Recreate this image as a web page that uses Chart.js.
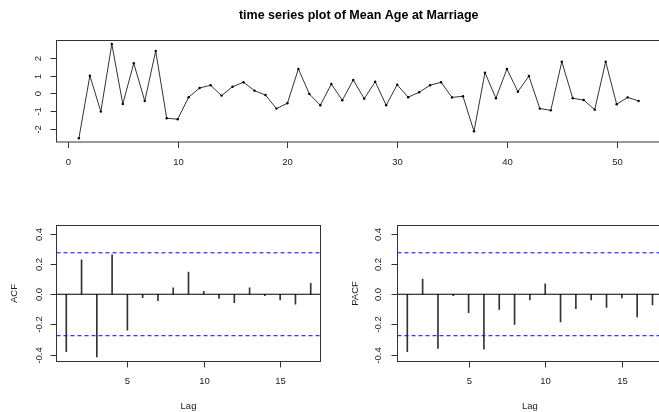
<!DOCTYPE html>
<html>
<head>
<meta charset="utf-8">
<script src="https://cdn.jsdelivr.net/npm/chart.js@4.4.1/dist/chart.umd.min.js"></script>
<style>
  html, body { margin: 0; padding: 0; background: #ffffff; overflow: hidden; width: 659px; height: 412px; }
  #frame { position: relative; left: 0; top: 0; width: 659px; height: 412px; overflow: hidden; }
  canvas { position: absolute; }
  #ts { left: 0; top: 0; width: 665px; height: 190px; }
  #acf { left: 0; top: 200px; width: 330px; height: 212px; }
  #pacf { left: 330px; top: 200px; width: 335px; height: 212px; }
</style>
</head>
<body>
<div id="frame">
<canvas id="ts" width="665" height="190"></canvas>
<canvas id="acf" width="330" height="212"></canvas>
<canvas id="pacf" width="335" height="212"></canvas>
</div>
<script>
// ---------------- data ----------------
const timeIndex = [1,2,3,4,5,6,7,8,9,10,11,12,13,14,15,16,17,18,19,20,21,22,23,24,25,26,
                   27,28,29,30,31,32,33,34,35,36,37,38,39,40,41,42,43,44,45,46,47,48,49,50,51,52];
const ageSeries = [-2.53, 0.99, -1.03, 2.77, -0.60, 1.69, -0.43, 2.38, -1.40, -1.46,
                   -0.22, 0.30, 0.45, -0.13, 0.37, 0.62, 0.15, -0.10, -0.86, -0.56,
                   1.37, -0.04, -0.67, 0.52, -0.39, 0.75, -0.30, 0.65, -0.67, 0.48,
                   -0.22, 0.06, 0.45, 0.62, -0.23, -0.17, -2.14, 1.16, -0.28, 1.37,
                   0.09, 0.97, -0.86, -0.96, 1.78, -0.28, -0.38, -0.92, 1.78, -0.62,
                   -0.23, -0.43];
const lags = [1,2,3,4,5,6,7,8,9,10,11,12,13,14,15,16,17];
const acfValues = [-0.380, 0.229, -0.416, 0.262, -0.238, -0.022, -0.043, 0.042, 0.147,
                   0.020, -0.027, -0.056, 0.042, -0.009, -0.038, -0.065, 0.073];
const pacfValues = [-0.380, 0.100, -0.360, -0.009, -0.122, -0.365, -0.100, -0.200, -0.038,
                    0.069, -0.183, -0.096, -0.038, -0.087, -0.025, -0.150, -0.071];
const confBound = 0.275;
const tsXTicks = [0, 10, 20, 30, 40, 50];
const tsYTicks = [-2, -1, 0, 1, 2];
const tsYTickLabels = ['-2', '-1', '0', '1', '2'];
const lagTicks = [5, 10, 15];
const corrTicks = [-0.4, -0.2, 0.0, 0.2, 0.4];
const corrTickLabels = ['-0.4', '-0.2', '0.0', '0.2', '0.4'];
const chartTitle = 'time series plot of Mean Age at Marriage';

// ---------------- R-style axes plugin ----------------
const FONT = '"Liberation Sans", Arial, Helvetica, sans-serif';
const rAxes = {
  id: 'rAxes',
  afterDraw(chart, args, o) {
    const ctx = chart.ctx, a = chart.chartArea;
    const xs = chart.scales.x, ys = chart.scales.y;
    ctx.save();
    ctx.setLineDash([]);
    ctx.strokeStyle = '#333333';
    ctx.lineWidth = 1;
    ctx.strokeRect(a.left, a.top, a.right - a.left, a.bottom - a.top);
    ctx.fillStyle = '#222222';
    ctx.font = '9.5px ' + FONT;
    ctx.textAlign = 'center';
    ctx.textBaseline = 'middle';
    const line = (x1, y1, x2, y2) => { ctx.beginPath(); ctx.moveTo(x1, y1); ctx.lineTo(x2, y2); ctx.stroke(); };
    o.xTicks.forEach(v => {
      const px = Math.round(xs.getPixelForValue(v)) + 0.5;
      line(px, a.bottom, px, a.bottom + 6);
      ctx.fillText(String(v), px, o.xLabelY);
    });
    o.yTicks.forEach((v, i) => {
      const py = Math.round(ys.getPixelForValue(v)) + 0.5;
      line(a.left - 6, py, a.left, py);
      ctx.save();
      ctx.translate(o.yLabelX, py);
      ctx.rotate(-Math.PI / 2);
      ctx.fillText(o.yTickLabels[i], 0, 0);
      ctx.restore();
    });
    if (o.xTitle) {
      ctx.fillText(o.xTitle, (a.left + a.right) / 2, o.xTitleY);
    }
    if (o.yTitle) {
      ctx.save();
      ctx.translate(o.yTitleX, (a.top + a.bottom) / 2);
      ctx.rotate(-Math.PI / 2);
      ctx.fillText(o.yTitle, 0, 0);
      ctx.restore();
    }
    if (o.title) {
      ctx.font = 'bold 12.5px ' + FONT;
      ctx.fillStyle = '#000000';
      ctx.fillText(o.title, (a.left + a.right) / 2, o.titleY);
    }
    ctx.restore();
  }
};

const hiddenScales = (xmin, xmax, ymin, ymax) => ({
  x: { type: 'linear', min: xmin, max: xmax, display: false, offset: false },
  y: { type: 'linear', min: ymin, max: ymax, display: false }
});

// ---------------- time series ----------------
new Chart(document.getElementById('ts'), {
  type: 'line',
  data: {
    datasets: [{
      data: timeIndex.map((t, i) => ({ x: t, y: ageSeries[i] })),
      borderColor: '#333333',
      borderWidth: 1,
      pointRadius: 1.2,
      pointBackgroundColor: '#000000',
      pointBorderWidth: 0,
      tension: 0,
      fill: false
    }]
  },
  options: {
    responsive: false,
    animation: false,
    layout: { padding: { left: 56.5, right: 2.8, top: 40.5, bottom: 48 } },
    scales: hiddenScales(-1.04, 54.04, -2.74, 2.97),
    plugins: {
      legend: { display: false },
      tooltip: { enabled: false },
      rAxes: { xTicks: tsXTicks, yTicks: tsYTicks, yTickLabels: tsYTickLabels,
               xLabelY: 162.5, yLabelX: 38.5, title: chartTitle, titleY: 16 }
    }
  },
  plugins: [rAxes]
});

// ---------------- correlograms ----------------
function correlogram(id, values, yTitle, padLeft, padRight, yLabelX, yTitleX) {
  const blueLine = (yv) => ({
    type: 'line',
    data: [{ x: 0.36, y: yv }, { x: 17.64, y: yv }],
    borderColor: 'rgb(0,0,255)',
    backgroundColor: 'rgb(0,0,255)',
    borderWidth: 1,
    borderDash: [4, 3],
    pointRadius: 0,
    fill: false
  });
  return new Chart(document.getElementById(id), {
    type: 'bar',
    data: {
      datasets: [
        blueLine(confBound),
        blueLine(-confBound),
        { type: 'line', data: [{ x: 0.36, y: 0 }, { x: 17.64, y: 0 }],
          borderColor: '#000000', backgroundColor: '#000000', borderWidth: 1, pointRadius: 0, fill: false },
        { type: 'bar', data: lags.map((l, i) => ({ x: l, y: values[i] })),
          backgroundColor: '#333333', barThickness: 1, borderWidth: 0, grouped: false }
      ]
    },
    options: {
      responsive: false,
      animation: false,
      layout: { padding: { left: padLeft, right: padRight, top: 25.5, bottom: 50.5 } },
      scales: hiddenScales(0.36, 17.64, -0.446, 0.456),
      plugins: {
        legend: { display: false },
        tooltip: { enabled: false },
        rAxes: { xTicks: lagTicks, yTicks: corrTicks, yTickLabels: corrTickLabels,
                 xLabelY: 181.5, yLabelX: yLabelX, xTitle: 'Lag', xTitleY: 206,
                 yTitle: yTitle, yTitleX: yTitleX }
      }
    },
    plugins: [rAxes]
  });
}
correlogram('acf', acfValues, 'ACF', 56.5, 9.5, 39, 14.5);
correlogram('pacf', pacfValues, 'PACF', 67.5, 2.7, 48.3, 25);
</script>
</body>
</html>
